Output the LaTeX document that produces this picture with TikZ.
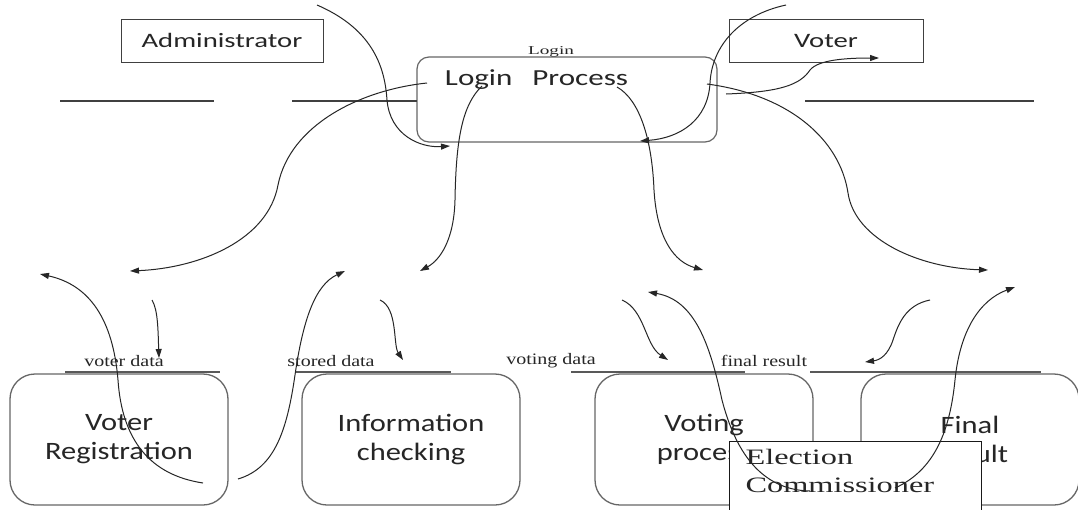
\documentclass[tikz,border=0pt]{standalone}
\usepackage{fontspec}
\usetikzlibrary{arrows.meta}
% widened faces for the labels
\newfontfamily\actorfont[FakeStretch=1.4]{Carlito}
\newfontfamily\procfont[FakeStretch=1.35]{Carlito}
\newfontfamily\boxfont[FakeStretch=1.22]{Carlito}
\newfontfamily\ecfont[FakeStretch=1.47]{Liberation Serif}
\newfontfamily\flowfont[FakeStretch=1.25]{Liberation Serif}
\newfontfamily\smallfont[FakeStretch=1.6]{Liberation Serif}

\begin{document}
\begin{tikzpicture}[x=1pt,y=-1pt,
  actor/.style={draw=black!75, line width=1pt, minimum height=43pt, inner sep=0pt,
    font=\actorfont\fontsize{20.5}{24}\selectfont, text=black!85},
  loginbox/.style={draw=black!60, line width=1.2pt, rounded corners=12pt,
    minimum width=300pt, minimum height=85pt, inner sep=0pt},
  proclabel/.style={font=\procfont\fontsize{23}{27}\selectfont, text=black!85, inner sep=0pt},
  procbox/.style={draw=black!60, line width=1.3pt, rounded corners=25pt,
    minimum width=218pt, minimum height=131pt, align=center, inner sep=0pt,
    font=\boxfont\fontsize{25}{29}\selectfont, text=black!85},
  ecbox/.style={draw=black!90, fill=white, line width=1pt, anchor=north west,
    inner xsep=16pt, inner ysep=8pt, text width=220pt, align=left, text depth=40pt,
    font=\ecfont\fontsize{22}{28}\selectfont, text=black!85},
  flowlabel/.style={font=\flowfont\fontsize{16}{18}\selectfont, text=black!85, inner sep=0pt},
  toplabel/.style={font=\smallfont\fontsize{12}{14}\selectfont, text=black!85, inner sep=0pt},
  storeline/.style={draw=black!65, line width=1.8pt},
  sepline/.style={draw=black!75, line width=1.1pt},
  flow/.style={draw=black!85, line width=1pt, -{Triangle[length=9pt,width=6pt]}}
]
\useasboundingbox (0,0) rectangle (1078,509);
\clip (0,0) rectangle (1078,509);
\fill[white] (0,0) rectangle (1078,509);

% external entities
\node[actor, minimum width=202pt] (admin) at (222,40.5) {Administrator};
\node[actor, minimum width=194pt] (voter) at (826,40.5) {Voter};

% login process
\node[loginbox] (login) at (567,99.5) {};
\node[proclabel] (logintext) at (536.5,80) {Login\hspace{20pt}Process};
\node[toplabel] (loginflow) at (551,52) {Login};

% separator lines of the upper band
\draw[sepline] (60,101) -- (214,101);
\draw[sepline] (292,101) -- (417,101);
\draw[sepline] (805,101) -- (1034,101);

% processes
\node[procbox] (vreg) at (119,439.5) {Voter\\Registration};
\node[procbox] (info) at (411,439.5) {Information\\checking};
\node[procbox] (voting) at (704,439.5) {Voting\\process};
\node[procbox] (final) at (970,439.5) {Final\\Result};

% data stores
\draw[storeline] (65,372) -- (220,372);
\draw[storeline] (296,372) -- (451,372);
\draw[storeline] (571,372) -- (745,372);
\draw[storeline] (810,372) -- (1041,372);
\node[flowlabel] (vdata) at (124,361) {voter data};
\node[flowlabel] (sdata) at (331,361) {stored\hspace{5pt}data};
\node[flowlabel] (gdata) at (551,361) {voting\hspace{5pt}data};
\node[flowlabel] (rdata) at (764,361) {final result};

% election commissioner
\node[ecbox] (ec) at (729,441) {Election\\Commissioner};

% end points of the flows
\coordinate (a0) at (317,5);     \coordinate (a1) at (450,146);
\coordinate (b0) at (786,5);     \coordinate (b1) at (640,141);
\coordinate (c0) at (726,94);    \coordinate (c1) at (879,58);
\coordinate (d0) at (707,84);    \coordinate (d1) at (988,270);
\coordinate (e0) at (427,83);    \coordinate (e1) at (130,271);
\coordinate (f0) at (482,86);    \coordinate (f1) at (420,271);
\coordinate (g0) at (617,87);    \coordinate (g1) at (703,270);
\coordinate (h0) at (203,483);   \coordinate (h1) at (40,274);
\coordinate (i0) at (152,300);   \coordinate (i1) at (159,358);
\coordinate (j0) at (238,479);   \coordinate (j1) at (345,271);
\coordinate (k0) at (380,300);   \coordinate (k1) at (403,360);
\coordinate (l0) at (622,300);   \coordinate (l1) at (668,360);
\coordinate (m0) at (810,491);   \coordinate (m1) at (648,292);
\coordinate (n0) at (930,300);   \coordinate (n1) at (865,362);
\coordinate (o0) at (895,488);   \coordinate (o1) at (1015,287);

% upper flows
\draw[flow] (a0) .. controls (375,30) and (385,70) .. (387,100)
                 .. controls (390,135) and (420,148) .. (a1);
\draw[flow] (b0) .. controls (740,15) and (712,45) .. (710,83)
                 .. controls (708,120) and (680,138) .. (b1);
\draw[flow] (c0) .. controls (780,92) and (800,85) .. (810,70)
                 .. controls (818,60) and (845,58) .. (c1);
\draw[flow] (d0) .. controls (790,95) and (840,140) .. (848,193)
                 .. controls (855,240) and (920,268) .. (d1);
\draw[flow] (e0) .. controls (360,90) and (290,125) .. (278,185)
                 .. controls (268,240) and (200,268) .. (e1);
\draw[flow] (f0) .. controls (462,105) and (456,140) .. (455,200)
                 .. controls (454,240) and (440,260) .. (f1);
\draw[flow] (g0) .. controls (640,100) and (652,140) .. (654,190)
                 .. controls (657,240) and (675,262) .. (g1);

% lower flows
\draw[flow] (h0) .. controls (150,475) and (122,440) .. (118,380)
                 .. controls (113,320) and (90,285) .. (h1);
\draw[flow] (i0) .. controls (158,310) and (158,330) .. (i1);
\draw[flow] (j0) .. controls (275,468) and (287,430) .. (295,375)
                 .. controls (303,320) and (315,285) .. (j1);
\draw[flow] (k0) .. controls (398,308) and (393,345) .. (k1);
\draw[flow] (l0) .. controls (645,310) and (645,345) .. (l1);
\draw[flow] (m0) .. controls (760,490) and (735,450) .. (722,400)
                 .. controls (710,345) and (695,300) .. (m1);
\draw[flow] (n0) .. controls (905,305) and (898,325) .. (893,340)
                 .. controls (888,355) and (880,360) .. (n1);
\draw[flow] (o0) .. controls (935,470) and (950,430) .. (955,380)
                 .. controls (960,330) and (980,300) .. (o1);
\end{tikzpicture}
\end{document}
